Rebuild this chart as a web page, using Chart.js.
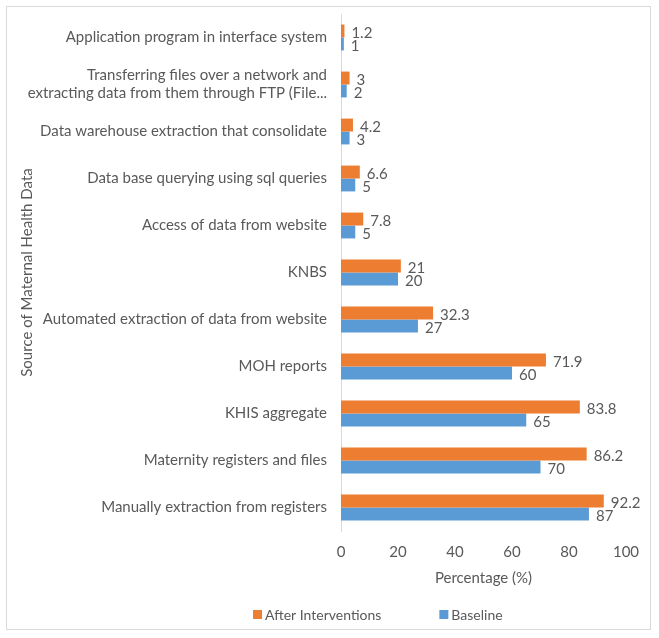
<!DOCTYPE html>
<html>
<head>
<meta charset="utf-8">
<script src="https://cdn.jsdelivr.net/npm/chart.js@4"></script>
<style>
  html, body { margin: 0; padding: 0; background: #fff; }
  #wrap { position: relative; width: 659px; height: 638px; }
  #frame { position: absolute; left: 6px; top: 6px; width: 645px; height: 624px; border: 1px solid #d9d9d9; box-sizing: border-box; }
</style>
</head>
<body>
<div id="wrap">
  <div id="frame"></div>
  <canvas id="BarChart" width="659" height="638"></canvas>
</div>
<script>
const categories = [
  "Application program in interface system",
  ["Transferring files over a network and", "extracting data from them through FTP (File..."],
  "Data warehouse extraction that consolidate",
  "Data base querying using sql queries",
  "Access of data from website",
  "KNBS",
  "Automated extraction of data from website",
  "MOH reports",
  "KHIS aggregate",
  "Maternity registers and files",
  "Manually extraction from registers"
];
const afterInterventions = [1.2, 3, 4.2, 6.6, 7.8, 21, 32.3, 71.9, 83.8, 86.2, 92.2];
const baseline = [1, 2, 3, 5, 5, 20, 27, 60, 65, 70, 87];
const xTicks = [0, 20, 40, 60, 80, 100];

const textColor = "#595959";
const fontFamily = "Lato, 'Open Sans', sans-serif";

// values printed at the end of each bar
const valueLabels = {
  id: "valueLabels",
  afterDatasetsDraw(chart) {
    const ctx = chart.ctx;
    ctx.save();
    ctx.fillStyle = textColor;
    ctx.font = "15px " + fontFamily;
    ctx.textAlign = "left";
    ctx.textBaseline = "middle";
    chart.data.datasets.forEach((ds, i) => {
      const meta = chart.getDatasetMeta(i);
      meta.data.forEach((bar, j) => {
        ctx.fillText(String(ds.data[j]), bar.x + 7, bar.y + 2);
      });
    });
    ctx.restore();
  }
};

// legend at the bottom, drawn like the excel one (wide gap, offset to the right)
const bottomLegend = {
  id: "bottomLegend",
  afterDraw(chart) {
    const ctx = chart.ctx;
    ctx.save();
    ctx.font = "14px " + fontFamily;
    ctx.textBaseline = "middle";
    const y = 615;
    let x = 253;
    chart.data.datasets.forEach(ds => {
      ctx.fillStyle = ds.backgroundColor;
      ctx.fillRect(x, y - 5, 9, 9);
      ctx.fillStyle = textColor;
      ctx.fillText(ds.label, x + 12, y);
      x += 12 + ctx.measureText(ds.label).width + 58;
    });
    ctx.restore();
  }
};

const ctx = document.getElementById("BarChart");
new Chart(ctx, {
  type: "bar",
  data: {
    labels: categories,
    datasets: [
      {
        label: "After Interventions",
        data: afterInterventions,
        backgroundColor: "#ED7D31",
        categoryPercentage: 0.55,
        barPercentage: 1.0
      },
      {
        label: "Baseline",
        data: baseline,
        backgroundColor: "#5B9BD5",
        categoryPercentage: 0.55,
        barPercentage: 1.0
      }
    ]
  },
  options: {
    indexAxis: "y",
    responsive: false,
    animation: false,
    layout: { padding: { left: 10, right: 33, top: 14, bottom: 51 } },
    scales: {
      x: {
        min: 0,
        max: 100,
        afterBuildTicks(scale) {
          scale.ticks = xTicks.map(v => ({ value: v }));
        },
        afterFit(scale) {
          // chart.js doubles the tick padding when fitting
          scale.height -= 12;
        },
        grid: { display: false, drawTicks: false },
        border: { display: false },
        ticks: { color: textColor, font: { family: fontFamily, size: 15 }, padding: 12 },
        title: {
          display: true,
          text: "Percentage (%)",
          color: textColor,
          font: { family: fontFamily, size: 15 },
          padding: { top: 8, bottom: 0 }
        }
      },
      y: {
        afterFit(scale) {
          scale.width = 331;
          scale.paddingTop = 0;
          scale.paddingBottom = 0;
        },
        grid: { display: false, drawTicks: false },
        border: { display: true, color: "#d9d9d9" },
        ticks: { color: textColor, font: { family: fontFamily, size: 15 }, padding: 14, autoSkip: false },
        title: {
          display: true,
          text: "Source of Maternal Health Data",
          color: textColor,
          font: { family: fontFamily, size: 15 },
          padding: { top: 8, bottom: 0 }
        }
      }
    },
    plugins: {
      legend: { display: false },
      tooltip: { enabled: false }
    }
  },
  plugins: [valueLabels, bottomLegend]
});
</script>
</body>
</html>
